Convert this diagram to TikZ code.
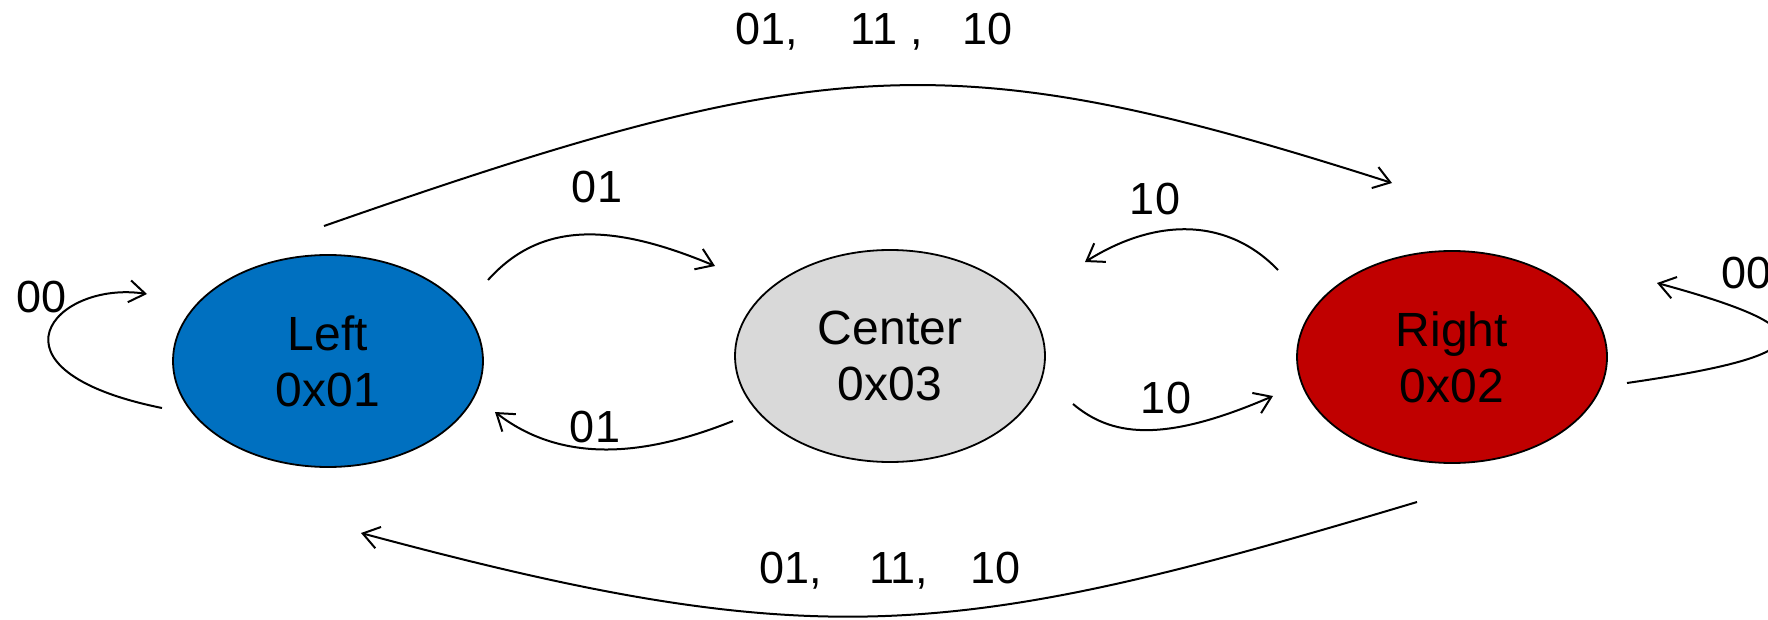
\documentclass[tikz,border=0pt]{standalone}
\usepackage{fontspec}
\setmainfont{Liberation Sans}
\usetikzlibrary{arrows.meta,shapes.geometric}
\definecolor{lblue}{HTML}{0070C0}
\definecolor{lgray}{HTML}{D9D9D9}
\definecolor{lred}{HTML}{C00000}
\begin{document}
\begin{tikzpicture}[x=1pt,y=-1pt,
 state/.style={ellipse,draw=black,line width=1.8pt,minimum width=310pt,minimum height=212pt,inner sep=0pt,align=center,font=\fontsize{48}{56}\selectfont},
 edge/.style={line width=2pt,-{Straight Barb[length=16pt,width=22pt]}},
 lbl/.style={font=\fontsize{45}{54}\selectfont,inner sep=0pt,anchor=base}]
\useasboundingbox (0,0) rectangle (1768,620);
\node[state,fill=lblue] (L) at (328,361) {Left\\0x01};
\node[state,fill=lgray] (C) at (890,356) {Center\\0x03};
\node[state,fill=lred] (R) at (1452,357) {Right\\0x02};
% endpoints
\coordinate (lla) at (162,408); \coordinate (llb) at (147,294);
\coordinate (rla) at (1627,383); \coordinate (rlb) at (1657,283);
\coordinate (lca) at (488,280); \coordinate (lcb) at (715,266);
\coordinate (cla) at (733,421); \coordinate (clb) at (495,412);
\coordinate (rca) at (1278,270); \coordinate (rcb) at (1085,262);
\coordinate (cra) at (1073,404); \coordinate (crb) at (1273,396);
\coordinate (lra) at (324,226); \coordinate (lrb) at (1392,183);
\coordinate (rlla) at (1417,502); \coordinate (rllb) at (361,533);
% edges
\draw[edge] (lla) .. controls (-25,370) and (55,280) .. (llb);
\draw[edge] (rla) .. controls (1820,355) and (1830,330) .. (rlb);
\draw[edge] (lca) .. controls (540,222) and (610,222) .. (lcb);
\draw[edge] (cla) .. controls (660,450) and (570,470) .. (clb);
\draw[edge] (rca) .. controls (1230,220) and (1160,215) .. (rcb);
\draw[edge] (cra) .. controls (1110,435) and (1160,445) .. (crb);
\draw[edge] (lra) .. controls (824,51) and (952,42) .. (lrb);
\draw[edge] (rlla) .. controls (956,640) and (822,657) .. (rllb);
% labels
\node[lbl] (t00l) at (42,312) {00};
\node[lbl,anchor=base west] (t00r) at (1721,288) {00};
\node[lbl] (t01a) at (597,203) {01};
\node[lbl] (t01b) at (595,442) {01};
\node[lbl] (t10a) at (1155,215) {10};
\node[lbl] (t10b) at (1166,413) {10};
\node[lbl] (ttop) at (874,45) {01,\hspace{53pt}11 ,\hspace{40pt}10};
\node[lbl] (tbot) at (890,583) {01,\hspace{47pt}11,\hspace{42pt}10};
\end{tikzpicture}
\end{document}
